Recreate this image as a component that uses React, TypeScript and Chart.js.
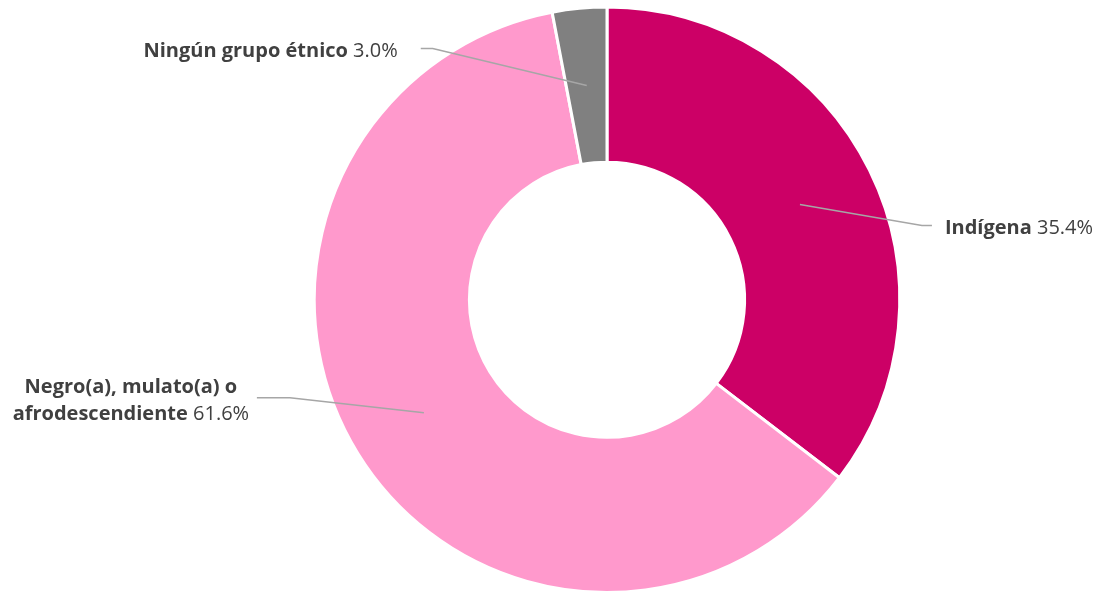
import React, { useEffect, useRef } from "react";
import { Chart, registerables } from "chart.js";

Chart.register(...registerables);

const categories = ["Indígena", "Negro(a), mulato(a) o afrodescendiente", "Ningún grupo étnico"];
const values = [35.4, 61.6, 3.0];
const valueLabels = ["35.4%", "61.6%", "3.0%"];
const labelLines = [["Indígena"], ["Negro(a), mulato(a) o", "afrodescendiente"], ["Ningún grupo étnico"]];
const colors = ["#CC0066", "#FF99CC", "#808080"];

const FONT = "'Open Sans', 'Noto Sans', sans-serif";
const FS = 20;

// label layout: elbow offset from anchor, horizontal run, text side
const labelLayout = [
  { elbow: [122, 21], run: 10, side: "right" },
  { elbow: [-134, -15], run: -33, side: "center" },
  { elbow: [-154, -37], run: -12, side: "left" },
];

const labelPlugin = {
  id: "leaderLabels",
  afterDatasetsDraw(chart: any) {
    const ctx = chart.ctx;
    const meta = chart.getDatasetMeta(0);
    ctx.save();
    meta.data.forEach((arc: any, i: number) => {
      const { x, y, startAngle, endAngle, innerRadius, outerRadius } = arc.getProps(
        ["x", "y", "startAngle", "endAngle", "innerRadius", "outerRadius"],
        true
      );
      const mid = (startAngle + endAngle) / 2;
      const r = (innerRadius + outerRadius) / 2;
      const ax = x + Math.cos(mid) * r;
      const ay = y + Math.sin(mid) * r;
      const L = labelLayout[i];
      const ex = ax + L.elbow[0];
      const ey = ay + L.elbow[1];
      const tx = ex + L.run;
      ctx.strokeStyle = "#A6A6A6";
      ctx.lineWidth = 1.5;
      ctx.beginPath();
      ctx.moveTo(ax, ay);
      ctx.lineTo(ex, ey);
      ctx.lineTo(tx, ey);
      ctx.stroke();

      const lines = labelLines[i];
      const lh = 27;
      const boldFont = `bold ${FS}px ${FONT}`;
      const regFont = `${FS}px ${FONT}`;
      ctx.fillStyle = "#404040";
      ctx.textBaseline = "middle";
      ctx.textAlign = "left";
      const n = lines.length;
      lines.forEach((line: string, li: number) => {
        const isLast = li === n - 1;
        ctx.font = boldFont;
        const wb = ctx.measureText(line).width;
        let wv = 0;
        let sp = 0;
        if (isLast) {
          ctx.font = regFont;
          sp = ctx.measureText(" ").width;
          wv = ctx.measureText(valueLabels[i]).width;
        }
        const total = wb + sp + wv;
        let startX;
        if (L.side === "right") startX = tx + 13;
        else if (L.side === "left") startX = tx - 23 - total;
        else startX = tx - 126 - total / 2;
        const ly = ey + 3 + (li - (n - 1) / 2) * lh;
        ctx.font = boldFont;
        ctx.fillText(line, startX, ly);
        if (isLast) {
          ctx.font = regFont;
          ctx.fillText(valueLabels[i], startX + wb + sp, ly);
        }
      });
    });
    ctx.restore();
  },
};

export default function App() {
  const ref = useRef<HTMLCanvasElement>(null);
  useEffect(() => {
    document.body.style.margin = "0";
    const chart = new Chart(ref.current!, {
      type: "doughnut",
      data: {
        labels: categories,
        datasets: [
          {
            data: values,
            backgroundColor: colors,
            borderColor: "#FFFFFF",
            borderWidth: 3,
          },
        ],
      },
      options: {
        animation: false,
        responsive: false,
        cutout: "47%",
        layout: { padding: { left: 114, right: 0, top: 5.5, bottom: 0 } },
        plugins: { legend: { display: false }, tooltip: { enabled: false } },
      },
      plugins: [labelPlugin],
    });
    return () => chart.destroy();
  }, []);
  return (
    <div style={{ width: 1100, height: 591, background: "#fff", overflow: "hidden" }}>
      <canvas ref={ref} width={1100} height={594} style={{ display: "block" }} />
    </div>
  );
}
